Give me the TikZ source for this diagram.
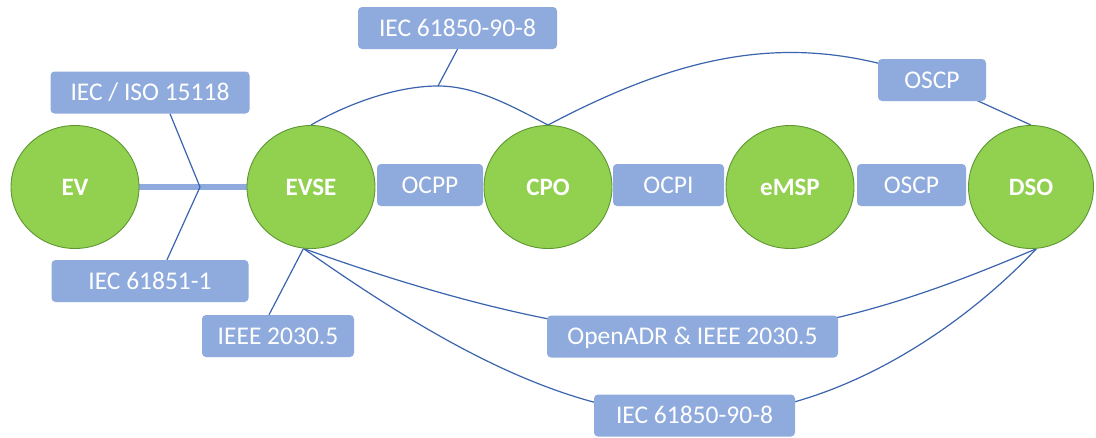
\documentclass[tikz,border=0pt]{standalone}
\usepackage{fontspec}
\setmainfont{Carlito}
\usetikzlibrary{shapes.geometric}
\definecolor{cfill}{HTML}{92D050}
\definecolor{cdraw}{HTML}{5E9732}
\definecolor{bfill}{HTML}{8FAADC}
\definecolor{lcol}{HTML}{3B64AE}
\pgfdeclarelayer{back}\pgfdeclarelayer{bg}\pgfsetlayers{back,bg,main}
\begin{document}
\begin{tikzpicture}[x=1pt,y=-1pt,
 actor/.style={ellipse, fill=cfill, draw=cdraw, line width=0.9pt, inner sep=0pt,
   minimum width=128pt, minimum height=123pt, text=white,
   text height=16.1pt, text depth=0pt, font=\fontsize{25}{30}\selectfont\bfseries},
 proto/.style={rectangle, rounded corners=4pt, fill=bfill, inner sep=0pt,
   minimum height=42pt, text=white, text height=16.4pt, text depth=0pt,
   font=\fontsize{25.5}{30}\selectfont},
 link/.style={draw=lcol, line width=1.2pt},
 busline/.style={draw=bfill, line width=6.5pt}]
\begin{pgfonlayer}{back}
\useasboundingbox[fill=white] (0,0) rectangle (1096,437);
\end{pgfonlayer}

\node[actor] (ev) at (75,187) {EV};
\node[actor] (evse) at (311,187) {EVSE};
\node[actor] (cpo) at (548,187) {CPO};
\node[actor] (emsp) at (790,187) {eMSP};
\node[actor, minimum width=125pt] (dso) at (1031,187) {DSO};

\node[proto, minimum width=199pt] (iso) at (150,92.5) {IEC / ISO 15118};
\node[proto, minimum width=197pt] (iec1) at (150,281) {IEC 61851-1};
\node[proto, minimum width=152pt] (ieee) at (278,336) {IEEE 2030.5};
\node[proto, minimum width=199pt] (top) at (457.5,28) {IEC 61850-90-8};
\node[proto, minimum width=106pt] (ocpp) at (430,185) {OCPP};
\node[proto, minimum width=111pt] (ocpi) at (668.5,185) {OCPI};
\node[proto, minimum width=109pt] (oscpM) at (911.5,185) {OSCP};
\node[proto, minimum width=108pt] (oscpT) at (932,80) {OSCP};
\node[proto, minimum width=291pt] (oadr) at (692.5,336.5) {OpenADR \& IEEE 2030.5};
\node[proto, minimum width=201pt] (iecB) at (694.5,415.5) {IEC 61850-90-8};

\coordinate (br) at (200,187);
\coordinate (pk) at (438,86);

\begin{pgfonlayer}{bg}
\draw[busline] (ev.east) -- (evse.west);
\draw[link] (br) -- ([xshift=20pt]iso.south);
\draw[link] (br) -- ([xshift=17pt]iec1.north);
\draw[link] (top.south) -- (pk);
\draw[link] (evse.north) .. controls (345,105) and (395,86) .. (pk)
  .. controls (475,86) and (510,105) .. (cpo.north);
\draw[link] (cpo.north) .. controls (690,50) and (800,30) .. (oscpT.center) -- (dso.north);
\draw[link] (evse.263) -- ([xshift=-9pt]ieee.north);
\draw[link] (evse.263) .. controls (420,290) and (560,332) .. (oadr.center)
  .. controls (830,334) and (950,285) .. (dso.275);
\draw[link] (evse.263) .. controls (420,330) and (560,418) .. (iecB.center)
  .. controls (830,418) and (960,330) .. (dso.275);
\end{pgfonlayer}
\end{tikzpicture}
\end{document}
